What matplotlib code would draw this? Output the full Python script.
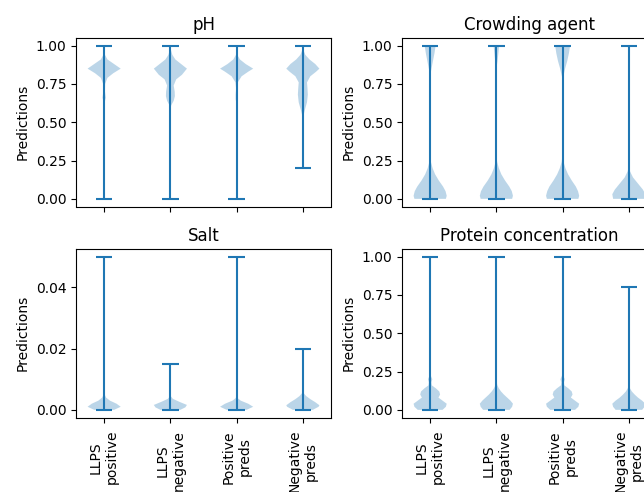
import matplotlib
matplotlib.use("Agg")
import matplotlib.pyplot as plt
from matplotlib.ticker import MultipleLocator
import numpy as np

# x categories
groups = ["LLPS\npositive", "LLPS\nnegative", "Positive\npreds", "Negative\npreds"]
titles = ["pH", "Crowding agent", "Salt", "Protein concentration"]
tick_steps = [0.25, 0.25, 0.02, 0.25]

# extrema per violin
ph_min = [0.0, 0.0, 0.0, 0.2]
ph_max = [1.0, 1.0, 1.0, 1.0]
crowd_min = [0.0, 0.0, 0.0, 0.0]
crowd_max = [1.0, 1.0, 1.0, 1.0]
salt_min = [0.0, 0.0, 0.0, 0.0]
salt_max = [0.05, 0.015, 0.05, 0.02]
prot_min = [0.0, 0.0, 0.0, 0.0]
prot_max = [1.0, 1.0, 1.0, 0.8]

# density outlines: heights and relative half-widths
ph_y = [
    [0.0, 0.60, 0.63, 0.66, 0.70, 0.75, 0.79, 0.82, 0.85, 0.88, 0.91, 0.94, 0.97, 1.0],
    [0.0, 0.58, 0.61, 0.64, 0.67, 0.70, 0.74, 0.78, 0.81, 0.85, 0.88, 0.91, 0.94, 0.97, 1.0],
    [0.0, 0.62, 0.65, 0.68, 0.72, 0.76, 0.80, 0.83, 0.85, 0.88, 0.91, 0.94, 1.0],
    [0.2, 0.50, 0.54, 0.58, 0.63, 0.68, 0.72, 0.76, 0.80, 0.83, 0.85, 0.88, 0.91, 0.94, 0.97, 1.0],
]
ph_w = [
    [0.0, 0.0, 0.03, 0.10, 0.05, 0.06, 0.2, 0.55, 1.0, 0.6, 0.2, 0.05, 0.01, 0.0],
    [0.0, 0.0, 0.05, 0.2, 0.27, 0.26, 0.2, 0.35, 0.7, 1.0, 0.65, 0.3, 0.12, 0.04, 0.0],
    [0.0, 0.0, 0.06, 0.06, 0.03, 0.07, 0.3, 0.7, 1.0, 0.55, 0.2, 0.04, 0.0],
    [0.0, 0.0, 0.03, 0.12, 0.25, 0.3, 0.28, 0.25, 0.45, 0.8, 1.0, 0.75, 0.4, 0.15, 0.04, 0.0],
]
crowd_y = [
    [0.0, 0.02, 0.05, 0.08, 0.12, 0.16, 0.20, 0.24, 0.28, 0.80, 0.85, 0.90, 0.95, 1.0],
    [0.0, 0.02, 0.05, 0.08, 0.12, 0.16, 0.20, 0.24, 0.28, 0.85, 0.90, 0.95, 1.0],
    [0.0, 0.02, 0.05, 0.08, 0.12, 0.16, 0.20, 0.24, 0.29, 0.78, 0.85, 0.90, 0.95, 1.0],
    [0.0, 0.03, 0.06, 0.10, 0.14, 0.18, 0.22, 0.90, 1.0],
]
crowd_w = [
    [0.95, 1.0, 0.93, 0.78, 0.52, 0.30, 0.15, 0.05, 0.0, 0.0, 0.08, 0.17, 0.26, 0.33],
    [0.95, 1.0, 0.93, 0.78, 0.52, 0.30, 0.15, 0.05, 0.0, 0.0, 0.07, 0.12, 0.17],
    [0.95, 1.0, 0.93, 0.80, 0.55, 0.33, 0.17, 0.06, 0.0, 0.0, 0.15, 0.28, 0.38, 0.45],
    [0.95, 1.0, 0.85, 0.55, 0.25, 0.07, 0.0, 0.0, 0.06],
]
salt_y = [
    [0.0, 0.001, 0.002, 0.003, 0.004, 0.005, 0.006],
    [0.0, 0.0008, 0.0016, 0.0026, 0.0036, 0.0046],
    [0.0, 0.001, 0.002, 0.003, 0.0038, 0.0045],
    [0.0, 0.001, 0.0015, 0.0025, 0.0035, 0.0045, 0.0055, 0.0065],
]
salt_w = [
    [0.6, 1.0, 0.75, 0.35, 0.12, 0.03, 0.0],
    [0.6, 0.9, 1.0, 0.55, 0.15, 0.0],
    [0.6, 1.0, 0.7, 0.25, 0.06, 0.0],
    [0.6, 0.95, 1.0, 0.75, 0.45, 0.2, 0.04, 0.0],
]
prot_y = [
    [0.0, 0.02, 0.04, 0.06, 0.08, 0.10, 0.12, 0.14, 0.16, 0.18, 0.20, 0.22, 0.24],
    [0.0, 0.02, 0.04, 0.06, 0.08, 0.10, 0.12, 0.14, 0.16, 0.19],
    [0.0, 0.02, 0.04, 0.06, 0.08, 0.10, 0.12, 0.14, 0.16, 0.18, 0.20, 0.22, 0.24],
    [0.0, 0.02, 0.04, 0.06, 0.08, 0.10, 0.12, 0.14, 0.16],
]
prot_w = [
    [0.75, 0.95, 1.0, 0.75, 0.5, 0.6, 0.55, 0.35, 0.1, 0.08, 0.13, 0.05, 0.0],
    [0.8, 0.95, 1.0, 0.85, 0.65, 0.45, 0.28, 0.15, 0.06, 0.0],
    [0.75, 0.95, 1.0, 0.75, 0.5, 0.6, 0.55, 0.35, 0.1, 0.08, 0.13, 0.05, 0.0],
    [0.8, 0.95, 1.0, 0.8, 0.55, 0.35, 0.18, 0.07, 0.0],
]


def make_stats(ys, ws, mins, maxs):
    stats = []
    for y, w, lo, hi in zip(ys, ws, mins, maxs):
        y = np.array(y)
        w = np.array(w)
        peak = y[np.argmax(w)]
        stats.append(dict(coords=y, vals=w, mean=peak, median=peak, min=lo, max=hi))
    return stats


panels = [
    make_stats(ph_y, ph_w, ph_min, ph_max),
    make_stats(crowd_y, crowd_w, crowd_min, crowd_max),
    make_stats(salt_y, salt_w, salt_min, salt_max),
    make_stats(prot_y, prot_w, prot_min, prot_max),
]

fig = plt.figure(figsize=(6.44, 4.92), dpi=100)
W, H = 644, 492
boxes = [(76, 38), (402, 38), (76, 249), (402, 249)]  # left, top in pixels
aw, ah = 255, 168.5

for i, (stats, title) in enumerate(zip(panels, titles)):
    left, top = boxes[i]
    ax = fig.add_axes([left / W, (H - top - ah) / H, aw / W, ah / H])
    ax.violin(stats, positions=[1, 2, 3, 4])
    ax.set_title(title)
    ax.set_ylabel("Predictions")
    ax.yaxis.set_major_locator(MultipleLocator(tick_steps[i]))
    ax.set_xticks([1, 2, 3, 4])
    if i < 2:
        ax.set_xticklabels([])
    else:
        ax.set_xticklabels(groups, rotation=90)
        ax.tick_params(axis="x", pad=5.5)

plt.savefig("out.png", dpi=100)
